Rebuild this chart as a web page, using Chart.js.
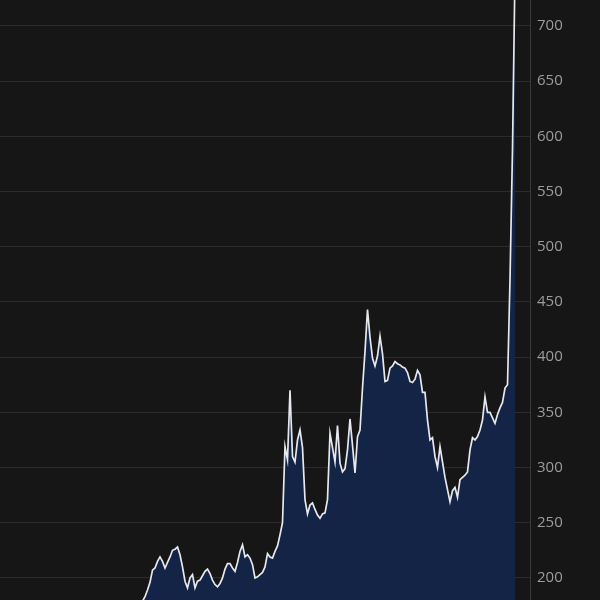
<!DOCTYPE html>
<html>
<head>
<meta charset="utf-8">
<script src="https://cdn.jsdelivr.net/npm/chart.js@4"></script>
<style>
  html, body { margin: 0; padding: 0; background: #161616; }
  #wrap { width: 600px; height: 600px; position: relative; }
</style>
</head>
<body>
<div id="wrap"><canvas id="c"></canvas></div>
<script>
// Series values (one per period)
const seriesValues = [
  128,131,127,133,136,132,138,141,137,135,
  140,144,142,147,145,150,148,146,152,155,
  151,149,154,158,156,153,157,161,159,163,
  160,158,162,166,164,161,165,168,163,160,
  164,167,170,166,169,172,168,171,174,170,
  167,171,175,173,170,172,176,
  179,183,189,196,207,209,215,219,215,209,
  214,219,225,226,228,221,210,197,191,200,
  203,191,197,198,202,206,208,204,198,194,
  192,195,200,208,213,213,209,206,214,224,
  230,219,221,218,212,200,201,203,205,210,
  222,219,218,224,229,239,250,319,307,370,
  310,305,325,334,318,271,258,266,268,262,
  257,254,258,259,271,331,318,305,338,304,
  296,299,316,344,320,295,328,334,372,405,
  443,418,399,392,401,419,403,378,379,390,
  392,396,394,393,391,390,386,378,377,380,
  388,384,368,368,343,325,327,310,300,319,
  305,291,280,269,279,282,273,289,291,293,
  296,316,327,325,328,334,343,364,350,350,
  345,340,348,354,359,372,375,470,588,750
];
// Category axis (periods), extends a little past the last value
const periodCount = 213;
const categories = Array.from({length: periodCount}, (_, i) => String(i));
// Y tick labels
const yTickValues = [200, 250, 300, 350, 400, 450, 500, 550, 600, 650, 700];
const yMin = 180;
const yMax = 723.5;

new Chart(document.getElementById('c'), {
  type: 'line',
  data: {
    labels: categories,
    datasets: [{
      data: seriesValues,
      borderColor: '#e6e8ee',
      borderWidth: 1.7,
      backgroundColor: '#132446',
      fill: 'start',
      pointRadius: 0,
      tension: 0
    }]
  },
  options: {
    responsive: true,
    maintainAspectRatio: false,
    animation: false,
    layout: { padding: 0 },
    plugins: { legend: { display: false }, tooltip: { enabled: false } },
    scales: {
      x: { type: 'category', display: false, offset: false },
      y: {
        position: 'right',
        min: yMin,
        max: yMax,
        afterBuildTicks: (scale) => { scale.ticks = yTickValues.map(v => ({ value: v })); },
        afterFit: (scale) => { scale.width = 70; scale.paddingTop = 0; scale.paddingBottom = 0; },
        ticks: {
          includeBounds: false,
          stepSize: 50,
          padding: 7,
          color: '#9c9c9c',
          font: { family: 'Open Sans', size: 15 }
        },
        grid: { color: '#2b2b2b', drawTicks: false, lineWidth: 1 },
        border: { display: true, color: '#3a3a3a', width: 1 }
      }
    }
  }
});
</script>
</body>
</html>
